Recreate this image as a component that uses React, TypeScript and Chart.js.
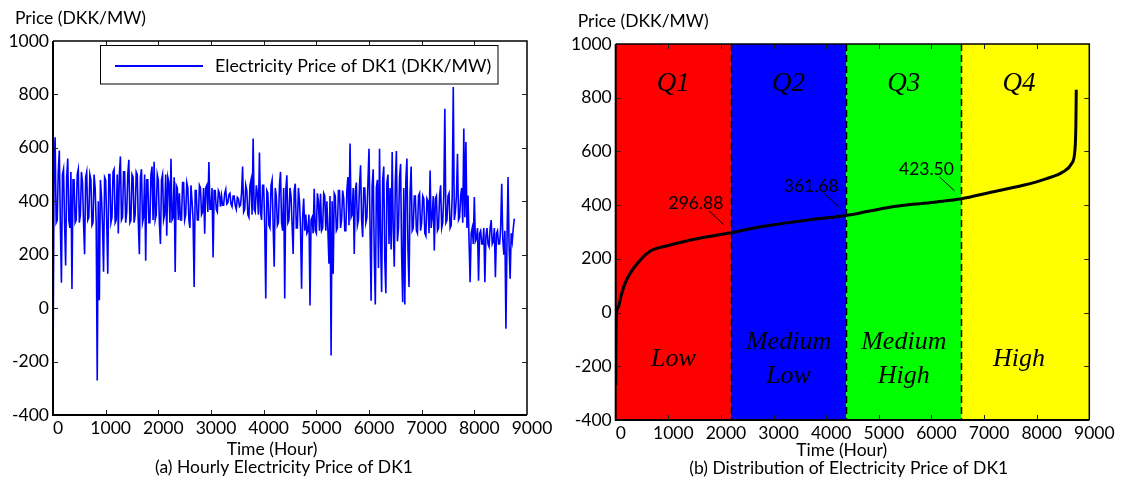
import React, { useEffect, useRef } from "react";
import { Chart, registerables } from "chart.js";

Chart.register(...registerables);

// ---------- data ----------
const STEP_HOURS = 20;
const hourlyPrice: number[] = [
  -255, 500, 640, 320, 330, 510, 590, 310, 95, 500, 520, 320, 160, 490, 560, 330, 300, 510, 72, 480,
  480, 320, 330, 500, 520, 320, 350, 510, 470, 320, 202, 490, 510, 330, 340, 500, 480, 310, 320, 500,
  450, 320, -271, 400, 30, 480, 420, 310, 136, 490, 480, 320, 129, 500, 500, 320, 340, 510, 520, 320,
  330, 500, 279, 500, 568, 330, 340, 510, 510, 320, 360, 500, 555, 320, 330, 500, 490, 320, 350, 510,
  500, 320, 202, 490, 520, 320, 340, 500, 177, 480, 480, 320, 320, 500, 530, 330, 548, 330, 350, 500,
  480, 320, 240, 480, 500, 330, 350, 500, 271, 490, 470, 320, 559, 330, 340, 490, 135, 460, 450, 330,
  430, 330, 330, 470, 470, 330, 350, 470, 450, 330, 300, 460, 400, 330, 79, 440, 440, 330, 330, 460,
  450, 350, 360, 450, 279, 450, 460, 360, 547, 370, 370, 450, 190, 440, 440, 370, 360, 440, 430, 380,
  420, 385, 385, 430, 445, 390, 395, 425, 430, 390, 380, 420, 420, 385, 370, 415, 410, 380, 385, 430,
  530, 360, 370, 460, 440, 350, 340, 460, 480, 350, 635, 370, 360, 460, 430, 350, 583, 360, 330, 460,
  460, 310, 36, 440, 430, 310, 300, 460, 480, 310, 155, 450, 420, 310, 320, 460, 510, 320, 290, 450,
  36, 440, 497, 320, 330, 450, 420, 310, 203, 440, 466, 300, 300, 450, 400, 300, 73, 340, 410, 290,
  350, 280, 290, 350, 10, 330, 340, 280, 447, 290, 280, 430, 400, 290, 428, 290, 300, 430, 420, 290,
  400, 290, 166, 420, -177, 400, 129, 430, 420, 290, 300, 440, 440, 300, 330, 440, 410, 290, 290, 440,
  491, 310, 616, 340, 350, 450, 203, 440, 470, 310, 330, 460, 535, 330, 266, 450, 450, 320, 340, 470,
  597, 300, 28, 460, 520, 200, 14, 450, 480, 150, 597, 250, 60, 480, 530, 180, 56, 470, 500, 240,
  450, 220, 584, 300, 155, 470, 588, 250, 300, 490, 540, 200, 22, 450, 14, 480, 560, 220, 79, 430,
  530, 290, 300, 420, 420, 290, 280, 420, 430, 290, 320, 420, 410, 280, 270, 410, 400, 280, 515, 300,
  340, 420, 216, 410, 420, 290, 300, 420, 460, 300, 320, 420, 746, 320, 330, 420, 430, 300, 310, 420,
  828, 330, 360, 420, 578, 330, 340, 420, 450, 320, 672, 340, 622, 300, 422, 250, 97, 280, 300, 240,
  416, 250, 260, 300, 103, 280, 290, 240, 240, 300, 97, 270, 300, 240, 230, 300, 330, 240, 250, 300,
  116, 280, 290, 240, 240, 300, 466, 260, 200, 290, -77, 250, 491, 230, 110, 280, 250, 300, 335,
];

const sortedHours: number[] = [
  0, 5, 15, 50, 100, 170, 270, 400, 580, 720, 1000, 1470, 2190, 2700, 3250, 3800, 4380,
  4800, 5210, 5600, 6100, 6570, 7110, 7745, 8190, 8505, 8665, 8727, 8745, 8752,
];
const sortedPrice: number[] = [
  -270, -100, 0, 20, 60, 105, 145, 180, 218, 235, 250, 272, 296.88, 318, 334, 348, 361.68,
  377, 392, 402, 412, 423.5, 447, 474, 499, 524, 555, 605, 700, 830,
];

const xTickValues: number[] = [0, 1000, 2000, 3000, 4000, 5000, 6000, 7000, 8000, 9000];
const yTickValues: number[] = [-400, -200, 0, 200, 400, 600, 800, 1000];

const quartileEdges: number[] = [0, 2190, 4380, 6570, 9000];
const quartileColors: string[] = ["#ff0000", "#0000ff", "#00ff00", "#ffff00"];
const quartileNames: string[] = ["Q1", "Q2", "Q3", "Q4"];
const levelNames: string[][] = [["Low"], ["Medium", "Low"], ["Medium", "High"], ["High"]];
const thresholdHours: number[] = [2190, 4380, 6570];
const thresholdValues: number[] = [296.88, 361.68, 423.5];
const DATA_END_HOUR = 8760;

const legendLabel = "Electricity Price of DK1 (DKK/MW)";

// ---------- styles ----------
const SANS = "Lato, 'Open Sans', sans-serif";
const SERIF = "'Liberation Serif', 'DejaVu Serif', serif";
const FS = 17.5;

type PanelCfg = {
  yTitle: string;
  xTitle: string;
  caption: string;
  xTitleDx: number;
  captionDx: number;
  xTitleY: number;
  captionY: number;
  legend: boolean;
  bands: boolean;
};

function makePanelPlugin(cfg: PanelCfg) {
  return {
    id: "panelDecor",
    beforeDatasetsDraw(chart: any) {
      if (!cfg.bands) return;
      const { ctx, chartArea } = chart;
      const { top, bottom } = chartArea;
      const x = chart.scales.x;
      const y = chart.scales.y;
      ctx.save();
      for (let i = 0; i < quartileColors.length; i++) {
        const x0 = x.getPixelForValue(quartileEdges[i]);
        const x1 = x.getPixelForValue(quartileEdges[i + 1]);
        ctx.fillStyle = quartileColors[i];
        ctx.fillRect(x0, top, x1 - x0, bottom - top);
      }
      ctx.strokeStyle = "#000";
      ctx.lineWidth = 1.5;
      ctx.setLineDash([7, 4]);
      for (const h of thresholdHours) {
        const px = Math.round(x.getPixelForValue(h)) + 0.5;
        ctx.beginPath();
        ctx.moveTo(px, top);
        ctx.lineTo(px, bottom);
        ctx.stroke();
      }
      ctx.setLineDash([]);
      ctx.fillStyle = "#000";
      ctx.textAlign = "center";
      ctx.textBaseline = "middle";
      for (let i = 0; i < quartileNames.length; i++) {
        const a = quartileEdges[i];
        const b = Math.min(quartileEdges[i + 1], DATA_END_HOUR);
        const cx = x.getPixelForValue((a + b) / 2);
        ctx.font = `italic 27px ${SERIF}`;
        ctx.fillText(quartileNames[i], cx, y.getPixelForValue(850));
        ctx.font = `italic 26px ${SERIF}`;
        const lines = levelNames[i];
        const cy = y.getPixelForValue(-175);
        const lh = 34;
        lines.forEach((t, k) => {
          ctx.fillText(t, cx, cy + (k - (lines.length - 1) / 2) * lh);
        });
      }
      ctx.restore();
    },
    afterDatasetsDraw(chart: any) {
      const { ctx, chartArea } = chart;
      const { left, right, top, bottom } = chartArea;
      const x = chart.scales.x;
      const y = chart.scales.y;
      ctx.save();
      if (cfg.bands) {
        ctx.font = `${FS}px ${SANS}`;
        ctx.fillStyle = "#000";
        ctx.strokeStyle = "#000";
        ctx.lineWidth = 1;
        ctx.textAlign = "center";
        ctx.textBaseline = "middle";
        for (let i = 0; i < thresholdHours.length; i++) {
          const px = x.getPixelForValue(thresholdHours[i]);
          const py = y.getPixelForValue(thresholdValues[i]);
          ctx.beginPath();
          ctx.moveTo(px - 22, py - 22);
          ctx.lineTo(px - 7, py - 8);
          ctx.stroke();
          ctx.fillText(thresholdValues[i].toFixed(2), px - 35, py - 29);
        }
      }
      if (cfg.legend) {
        const bx = 100.5, by = 45.5, bw = 397.5, bh = 38.5;
        ctx.fillStyle = "#fff";
        ctx.fillRect(bx, by, bw, bh);
        ctx.strokeStyle = "#000";
        ctx.lineWidth = 1;
        ctx.strokeRect(bx, by, bw, bh);
        ctx.strokeStyle = "#0000ff";
        ctx.lineWidth = 2;
        ctx.beginPath();
        ctx.moveTo(115, 66);
        ctx.lineTo(203, 66);
        ctx.stroke();
        ctx.fillStyle = "#000";
        ctx.font = `17.8px ${SANS}`;
        ctx.textAlign = "left";
        ctx.textBaseline = "middle";
        ctx.fillText(legendLabel, 215, 66);
      }
      // inward ticks
      ctx.strokeStyle = "#222";
      ctx.lineWidth = 1;
      const tl = 5;
      for (const v of xTickValues) {
        if (v <= x.min || v >= x.max) continue;
        const px = Math.round(x.getPixelForValue(v)) + 0.5;
        ctx.beginPath();
        ctx.moveTo(px, bottom);
        ctx.lineTo(px, bottom - tl);
        ctx.moveTo(px, top);
        ctx.lineTo(px, top + tl);
        ctx.stroke();
      }
      for (const v of yTickValues) {
        if (v <= y.min || v >= y.max) continue;
        const py = Math.round(y.getPixelForValue(v)) + 0.5;
        ctx.beginPath();
        ctx.moveTo(left, py);
        ctx.lineTo(left + tl, py);
        ctx.moveTo(right, py);
        ctx.lineTo(right - tl, py);
        ctx.stroke();
      }
      // frame
      ctx.strokeStyle = "#000";
      ctx.lineWidth = 1.5;
      ctx.beginPath();
      ctx.moveTo(left, top);
      ctx.lineTo(right, top);
      ctx.lineTo(right, bottom);
      ctx.stroke();
      ctx.lineWidth = 2;
      ctx.beginPath();
      ctx.moveTo(left, top);
      ctx.lineTo(left, bottom);
      ctx.lineTo(right, bottom);
      ctx.stroke();
      ctx.restore();
    },
    afterDraw(chart: any) {
      const { ctx, chartArea } = chart;
      const { left, top } = chartArea;
      ctx.save();
      ctx.fillStyle = "#000";
      ctx.font = `${FS}px ${SANS}`;
      ctx.textBaseline = "middle";
      ctx.textAlign = "left";
      ctx.fillText(cfg.yTitle, left - 38, top - 23);
      ctx.textAlign = "center";
      ctx.fillText(cfg.xTitle, left + cfg.xTitleDx, cfg.xTitleY);
      ctx.fillText(cfg.caption, left + cfg.captionDx, cfg.captionY);
      ctx.restore();
    },
  };
}

function scaleOptions(axisSize: number, isX: boolean) {
  const base: any = {
    type: "linear",
    min: isX ? 0 : -400,
    max: isX ? 9000 : 1000,
    grid: { display: false, drawTicks: false },
    border: { display: false },
    afterBuildTicks: (s: any) => {
      s.ticks = (isX ? xTickValues : yTickValues).map((v) => ({ value: v }));
    },
    ticks: {
      color: "#000",
      font: { family: SANS, size: FS },
      padding: isX ? 3 : 4,
      maxRotation: 0,
      autoSkip: false,
      labelOffset: isX ? 5 : 0,
      callback: (v: number) => String(v),
    },
  };
  base.afterFit = (s: any) => {
    if (isX) s.height = axisSize;
    else s.width = axisSize;
  };
  return base;
}

export default function App() {
  const leftRef = useRef<HTMLCanvasElement>(null);
  const rightRef = useRef<HTMLCanvasElement>(null);

  useEffect(() => {
    const series = hourlyPrice.map((v, i) => ({ x: i * STEP_HOURS, y: v }));
    const left = new Chart(leftRef.current as HTMLCanvasElement, {
      type: "line",
      data: {
        datasets: [
          {
            label: legendLabel,
            data: series,
            borderColor: "#0000ff",
            borderWidth: 1.6,
            pointRadius: 0,
            tension: 0,
          },
        ],
      },
      options: {
        animation: false,
        responsive: false,
        devicePixelRatio: 1,
        parsing: false,
        layout: { padding: { top: 41, right: 33, bottom: 0, left: 0 } },
        plugins: { legend: { display: false }, tooltip: { enabled: false }, title: { display: false } },
        scales: { x: scaleOptions(73, true), y: scaleOptions(53, false) },
      } as any,
      plugins: [
        makePanelPlugin({
          yTitle: "Price (DKK/MW)",
          xTitle: "Time (Hour)",
          caption: "(a) Hourly Electricity Price of DK1",
          xTitleDx: 219,
          captionDx: 231,
          xTitleY: 449,
          captionY: 467,
          legend: true,
          bands: false,
        }) as any,
      ],
    });

    const curve = sortedHours.map((h, i) => ({ x: h, y: sortedPrice[i] }));
    const right = new Chart(rightRef.current as HTMLCanvasElement, {
      type: "line",
      data: {
        datasets: [
          {
            label: "Sorted price",
            data: curve,
            borderColor: "#000",
            borderWidth: 3,
            pointRadius: 0,
            cubicInterpolationMode: "monotone",
          },
        ],
      },
      options: {
        animation: false,
        responsive: false,
        devicePixelRatio: 1,
        parsing: false,
        layout: { padding: { top: 44, right: 35.7, bottom: 0, left: 0 } },
        plugins: { legend: { display: false }, tooltip: { enabled: false }, title: { display: false } },
        scales: { x: scaleOptions(68, true), y: scaleOptions(55.7, false) },
      } as any,
      plugins: [
        makePanelPlugin({
          yTitle: "Price (DKK/MW)",
          xTitle: "Time (Hour)",
          caption: "(b) Distribution of Electricity Price of DK1",
          xTitleDx: 226,
          captionDx: 233,
          xTitleY: 450,
          captionY: 468,
          legend: false,
          bands: true,
        }) as any,
      ],
    });

    return () => {
      left.destroy();
      right.destroy();
    };
  }, []);

  return (
    <div style={{ position: "absolute", left: 0, top: 0, width: 1125, height: 488, background: "#fff" }}>
      <canvas
        ref={leftRef}
        width={560}
        height={488}
        style={{ position: "absolute", left: 0, top: 0, width: 560, height: 488 }}
      />
      <canvas
        ref={rightRef}
        width={565}
        height={488}
        style={{ position: "absolute", left: 560, top: 0, width: 565, height: 488 }}
      />
    </div>
  );
}
